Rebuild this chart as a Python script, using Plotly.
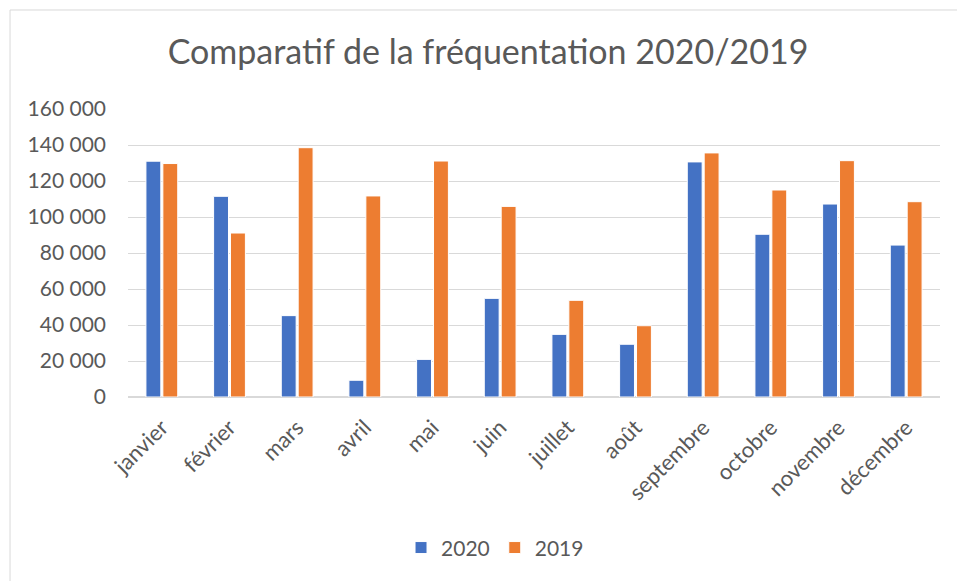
import plotly.graph_objects as go

# ~~~~~~~~~~~~~~~~~~~~~~~~~~~~~~~~~~~~~~~~~~~~~~~~~~~~~~
# Data
months = [
    "janvier", "février", "mars", "avril", "mai", "juin",
    "juillet", "août", "septembre", "octobre", "novembre", "décembre",
]
visits_2020 = [131000, 111500, 45200, 9300, 20900, 54800,
               34800, 29300, 130600, 90400, 107200, 84400]
visits_2019 = [129700, 91100, 138500, 111700, 131100, 105900,
               53700, 39600, 135600, 115000, 131300, 108500]
y_ticks = [0, 20000, 40000, 60000, 80000, 100000, 120000, 140000, 160000]

BLUE = "#4472C4"
ORANGE = "#ED7D31"
TEXT = "#595959"
GRID = "#D9D9D9"

fig = go.Figure()
fig.add_trace(go.Bar(x=months, y=visits_2020, name="2020",
                     marker=dict(color=BLUE, line=dict(color="white", width=1))))
fig.add_trace(go.Bar(x=months, y=visits_2019, name="2019",
                     marker=dict(color=ORANGE, line=dict(color="white", width=1))))

# chart frame (only top/left edges are visible in the picture)
fig.add_shape(type="rect", xref="paper", yref="paper",
              x0=-0.1453, x1=1.03, y0=-0.68, y1=1.3438,
              line=dict(color="#D9D9D9", width=1), layer="below")

fig.update_layout(
    width=957,
    height=581,
    margin=dict(l=128, r=17, t=109, b=184),
    paper_bgcolor="white",
    plot_bgcolor="white",
    font=dict(family="Lato, Carlito, Calibri, sans-serif", size=21, color=TEXT),
    separators=", ",
    barmode="group",
    bargap=0.5,
    bargroupgap=0.12,
    title=dict(
        text="Comparatif de la fréquentation 2020/2019",
        font=dict(size=34, color=TEXT),
        x=0.51, xanchor="center", y=1 - 52 / 581, yanchor="middle",
    ),
    xaxis=dict(
        tickangle=-45,
        showgrid=False,
        showline=True,
        linecolor=GRID,
        linewidth=1,
        ticks="",
        ticklabelstandoff=8,
        tickfont=dict(size=22, color=TEXT),
    ),
    yaxis=dict(
        range=[0, 160000],
        tickvals=y_ticks,
        tickformat=",d",
        showgrid=True,
        gridcolor=GRID,
        gridwidth=1,
        zeroline=True,
        zerolinecolor=GRID,
        showline=False,
        ticks="",
        ticklabelstandoff=21,
        tickfont=dict(size=21, color=TEXT),
    ),
    legend=dict(
        orientation="h",
        x=0.452, xanchor="center",
        y=-0.524, yanchor="middle",
        font=dict(size=21, color=TEXT),
    ),
)

fig.write_html("out.html", config={"displayModeBar": False},
               post_script="document.body.style.margin='0';")
